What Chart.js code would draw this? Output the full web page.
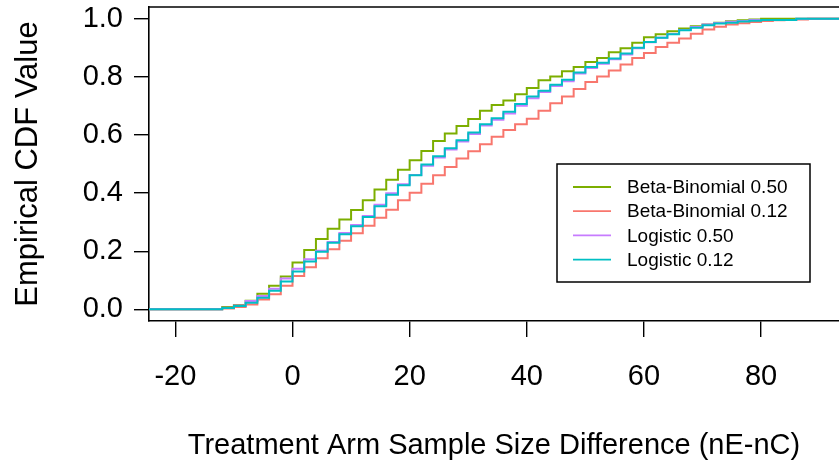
<!DOCTYPE html>
<html>
<head>
<meta charset="utf-8">
<script src="https://cdn.jsdelivr.net/npm/chart.js@4.4.1/dist/chart.umd.min.js"></script>
<style>
  html, body { margin: 0; padding: 0; background: #fff; }
  #wrap { width: 839px; height: 465px; }
</style>
</head>
<body>
<div id="wrap"><canvas id="cdfChart" width="839" height="465"></canvas></div>
<script>
// -------------------------------
// DATA
// -------------------------------
const xVals = [-12, -10, -8, -6, -4, -2, 0, 2, 4, 6, 8, 10, 12, 14, 16, 18, 20, 22, 24, 26, 28, 30,
               32, 34, 36, 38, 40, 42, 44, 46, 48, 50, 52, 54, 56, 58, 60, 62, 64, 66, 68, 70,
               72, 74, 76, 78, 80, 82, 84, 86, 88];

const bb050 = [0.008, 0.015, 0.030, 0.054, 0.081, 0.113,
               0.161, 0.204, 0.242, 0.277, 0.309, 0.342,
               0.375, 0.412, 0.446, 0.480, 0.513, 0.545,
               0.579, 0.605, 0.631, 0.655, 0.683, 0.703,
               0.718, 0.740, 0.761, 0.788, 0.801, 0.819,
               0.834, 0.851, 0.865, 0.884, 0.898, 0.917,
               0.936, 0.946, 0.957, 0.966, 0.974, 0.980,
               0.986, 0.991, 0.994, 0.997, 1.000, 1.000,
               1.000, 1.000, 1.000];

const bb012 = [0.003, 0.008, 0.017, 0.034, 0.052, 0.081,
               0.115, 0.145, 0.176, 0.207, 0.236, 0.262,
               0.288, 0.315, 0.343, 0.375, 0.401, 0.432,
               0.461, 0.490, 0.519, 0.544, 0.568, 0.594,
               0.617, 0.637, 0.656, 0.683, 0.709, 0.732,
               0.758, 0.782, 0.801, 0.822, 0.842, 0.865,
               0.882, 0.902, 0.917, 0.932, 0.948, 0.963,
               0.972, 0.980, 0.984, 0.988, 0.992, 0.994,
               0.995, 0.997, 1.000];

const log050 = [0.006, 0.013, 0.029, 0.046, 0.071, 0.106,
                0.140, 0.172, 0.202, 0.232, 0.263, 0.290,
                0.321, 0.360, 0.399, 0.430, 0.462, 0.494,
                0.522, 0.550, 0.577, 0.603, 0.632, 0.652,
                0.674, 0.700, 0.726, 0.748, 0.768, 0.785,
                0.811, 0.830, 0.845, 0.860, 0.877, 0.898,
                0.919, 0.934, 0.947, 0.961, 0.971, 0.980,
                0.985, 0.989, 0.992, 0.995, 0.995, 0.995,
                0.995, 1.000, 1.000];

const log012 = [0.005, 0.012, 0.023, 0.040, 0.064, 0.096,
                0.130, 0.165, 0.198, 0.229, 0.258, 0.286,
                0.318, 0.355, 0.394, 0.427, 0.461, 0.498,
                0.527, 0.554, 0.582, 0.608, 0.637, 0.657,
                0.680, 0.706, 0.732, 0.752, 0.773, 0.790,
                0.815, 0.834, 0.848, 0.863, 0.880, 0.900,
                0.920, 0.934, 0.946, 0.960, 0.969, 0.977,
                0.983, 0.986, 0.990, 0.993, 0.995, 0.995,
                0.995, 1.000, 1.000];

const seriesNames  = ["Beta-Binomial 0.50", "Beta-Binomial 0.12", "Logistic 0.50", "Logistic 0.12"];
const seriesColors = ["#7CAE00", "#F8766D", "#C77CFF", "#00BFC4"];
const seriesValues = [bb050, bb012, log050, log012];

const xTicks = [-20, 0, 20, 40, 60, 80];
const yTicks = [0, 0.2, 0.4, 0.6, 0.8, 1.0];

// ecdf runs flat at 0 before the first jump and at 1 after the last one
const xBefore = -40;
const xAfter = 120;

const FONT = "'Liberation Sans', Arial, sans-serif";

// -------------------------------
// PLUGINS: top border of the box + R style legend
// -------------------------------
const boxTop = {
    id: "boxTop",
    afterDraw(chart) {
        const { ctx, chartArea } = chart;
        ctx.save();
        ctx.strokeStyle = "#000";
        ctx.lineWidth = 1.6;
        ctx.beginPath();
        ctx.moveTo(chartArea.left - 0.8, chartArea.top);
        ctx.lineTo(chartArea.right, chartArea.top);
        ctx.stroke();
        ctx.restore();
    }
};

const rLegend = {
    id: "rLegend",
    afterDatasetsDraw(chart) {
        const ctx = chart.ctx;
        const bx = 557, by = 164, bw = 253, bh = 118;
        ctx.save();
        ctx.fillStyle = "#fff";
        ctx.fillRect(bx, by, bw, bh);
        ctx.strokeStyle = "#000";
        ctx.lineWidth = 1.5;
        ctx.strokeRect(bx, by, bw, bh);

        ctx.font = "19px " + FONT;
        ctx.textBaseline = "middle";
        ctx.textAlign = "left";
        chart.data.datasets.forEach((ds, i) => {
            const y = by + 23 + i * 24.2;
            ctx.strokeStyle = ds.borderColor;
            ctx.lineWidth = 1.8;
            ctx.beginPath();
            ctx.moveTo(bx + 16, y);
            ctx.lineTo(bx + 54, y);
            ctx.stroke();
            ctx.fillStyle = "#000";
            ctx.fillText(ds.label, bx + 70, y + 1);
        });
        ctx.restore();
    }
};

// -------------------------------
// CHART
// -------------------------------
const datasets = seriesNames.map((name, i) => ({
    label: name,
    data: [{ x: xBefore, y: 0 }]
        .concat(xVals.map((x, j) => ({ x: x, y: seriesValues[i][j] })))
        .concat([{ x: xAfter, y: 1 }]),
    borderColor: seriesColors[i],
    backgroundColor: seriesColors[i],
    borderWidth: 2,
    stepped: "before",
    pointRadius: 0,
    fill: false,
    order: 3 - i          // Logistic 0.12 ends up on top
}));

new Chart(document.getElementById("cdfChart"), {
    type: "line",
    data: { datasets: datasets },
    options: {
        responsive: false,
        devicePixelRatio: 1,
        animation: false,
        layout: { padding: { top: 7, right: 0, bottom: 0, left: 0 } },
        plugins: {
            legend: { display: false },
            tooltip: { enabled: false }
        },
        scales: {
            x: {
                type: "linear",
                min: -24.5,
                max: 93.3,
                afterBuildTicks: s => { s.ticks = xTicks.map(v => ({ value: v })); },
                afterFit: s => { s.height = 144; s.paddingLeft = 0; s.paddingRight = 0; },
                grid: { drawOnChartArea: false, drawTicks: true, tickLength: 16, color: "#000", lineWidth: 1.4 },
                border: { display: true, color: "#000", width: 1.6 },
                ticks: {
                    color: "#000",
                    font: { family: FONT, size: 29 },
                    padding: 23,
                    maxRotation: 0,
                    autoSkip: false
                },
                title: {
                    display: true,
                    text: "Treatment Arm Sample Size Difference (nE-nC)",
                    color: "#000",
                    font: { family: FONT, size: 29 },
                    padding: { top: 0, bottom: 2 }
                }
            },
            y: {
                type: "linear",
                min: -0.04,
                max: 1.04,
                afterBuildTicks: s => { s.ticks = yTicks.map(v => ({ value: v })); },
                afterFit: s => { s.width = 149; s.paddingTop = 0; s.paddingBottom = 0; },
                grid: { drawOnChartArea: false, drawTicks: true, tickLength: 15, color: "#000", lineWidth: 1.4 },
                border: { display: true, color: "#000", width: 1.6 },
                ticks: {
                    color: "#000",
                    font: { family: FONT, size: 29 },
                    padding: 11,
                    callback: v => Number(v).toFixed(1)
                },
                title: {
                    display: true,
                    text: "Empirical CDF Value",
                    color: "#000",
                    font: { family: FONT, size: 31 },
                    padding: { top: 10, bottom: 0 }
                }
            }
        }
    },
    plugins: [boxTop, rLegend]
});
</script>
</body>
</html>
